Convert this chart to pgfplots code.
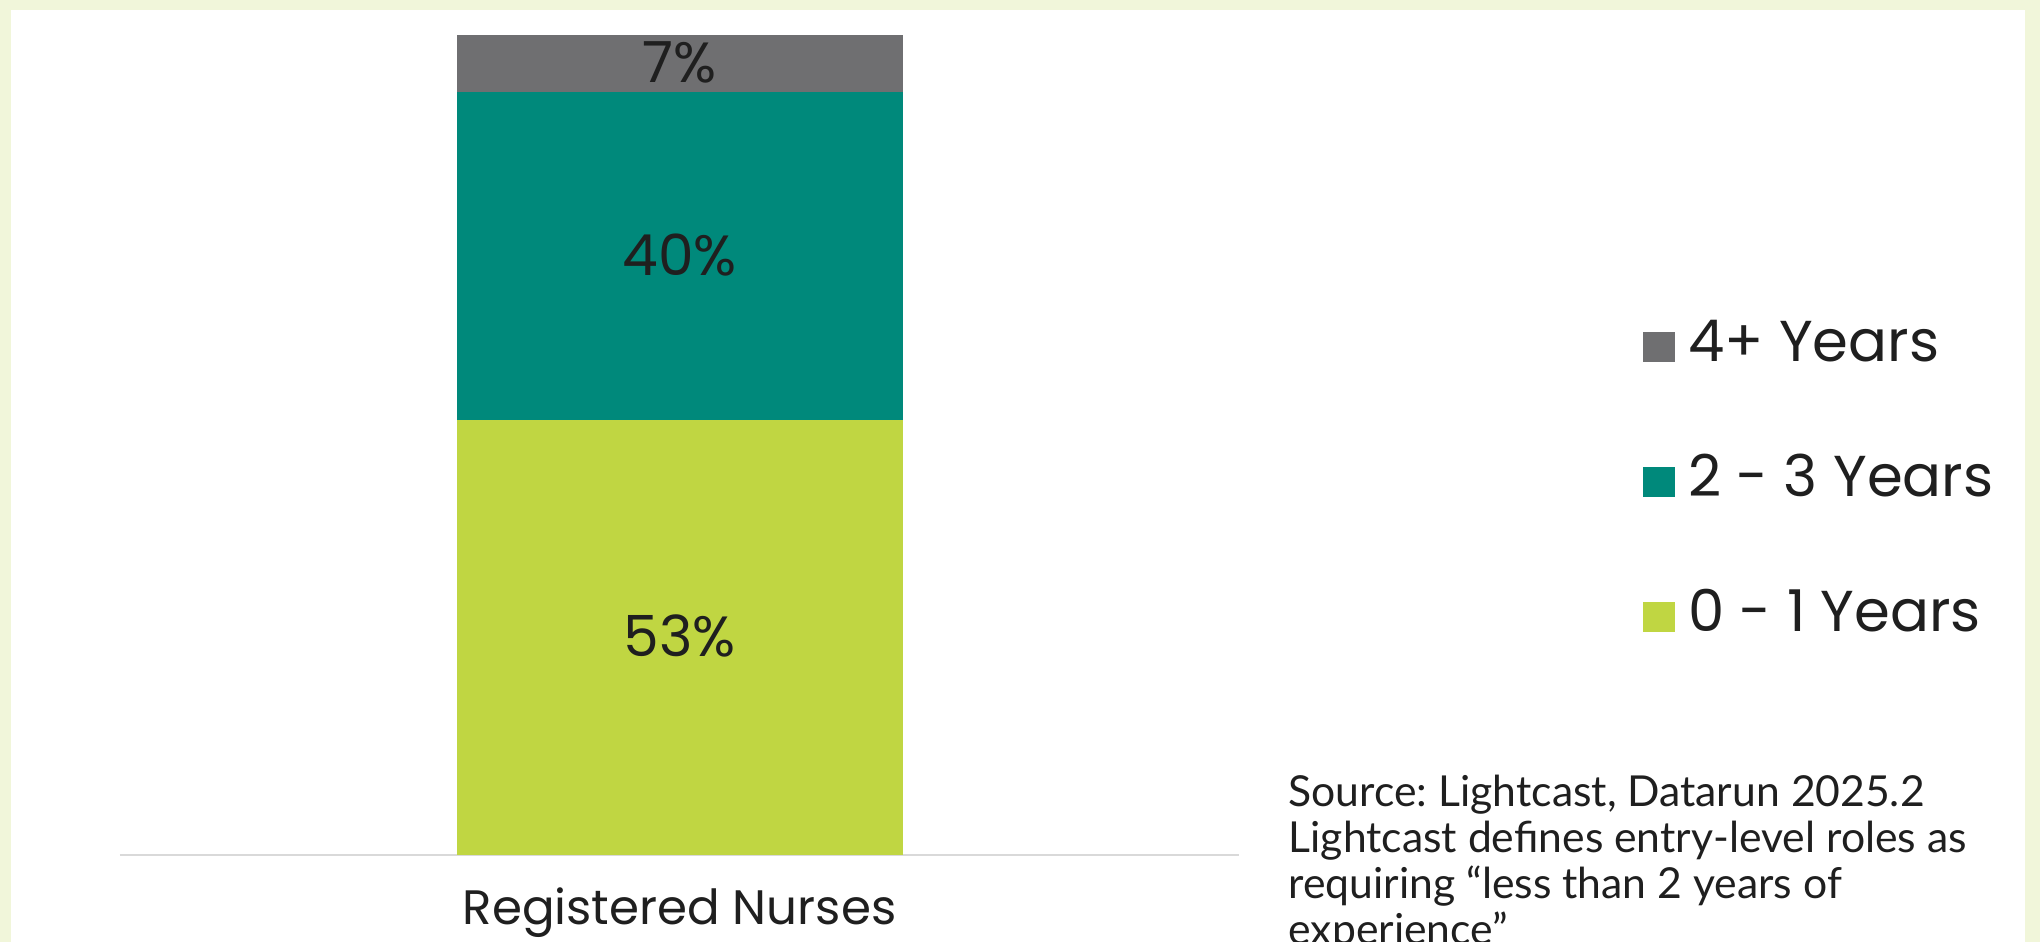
\documentclass[border=0pt]{standalone}
\usepackage{pgfplots}
\pgfplotsset{compat=1.18}
\usepackage{fontspec}
\setmainfont{Poppins}
\newfontfamily\srcfont{Lato}
\definecolor{bgc}{HTML}{F1F6DA}
\definecolor{c4}{HTML}{6F6F71}
\definecolor{c23}{HTML}{00897B}
\definecolor{c01}{HTML}{C0D642}
\definecolor{txt}{HTML}{1F1F1F}
\frenchspacing
\begin{document}
\begin{tikzpicture}
\fill[bgc] (0,0) rectangle (612pt,282.6pt);
\fill[white] (3.3pt,0) rectangle (607.5pt,279.6pt);
\useasboundingbox (0,0) rectangle (612pt,282.6pt);
\begin{axis}[
  at={(36pt,26.1pt)}, anchor=south west,
  scale only axis, width=335.7pt, height=246pt,
  xmin=-1.2545, xmax=1.2545, ymin=0, ymax=100,
  ybar stacked, bar width=133.8pt,
  axis y line=none, axis x line*=bottom,
  x axis line style={draw=black!15, line width=0.8pt, -},
  xtick={0}, xticklabels={Registered Nurses},
  major tick length=0pt,
  xticklabel style={font=\fontsize{14.5}{14.5}\selectfont, text=txt, anchor=base, yshift=-21pt},
  clip=false,
  reverse legend,
  legend style={at={(1.361,0.455)}, anchor=west, draw=none, fill=none,
    inner sep=0pt, outer sep=0pt, row sep=24.5pt, column sep=4pt,
    font=\fontsize{17.3}{17.3}\selectfont, text=txt,
    nodes={inner sep=0pt, text height=12.5pt, text depth=3.5pt}},
  legend cell align=left,
  legend image code/.code={\fill[#1] (0pt,-4.5pt) rectangle (9.6pt,4.5pt);},
  after end axis/.code={
    \node[anchor=base, font=\fontsize{17}{17}\selectfont, text=txt] at (axis cs:0,94.2) {7\%};
    \node[anchor=base, font=\fontsize{17}{17}\selectfont, text=txt] at (axis cs:0,70.7) {40\%};
    \node[anchor=base, font=\fontsize{17}{17}\selectfont, text=txt] at (axis cs:0,24.2) {53\%};
  },
]
\addplot[fill=c01, draw=none] coordinates {(0,53)};
\addlegendentry{0 - 1 Years}
\addplot[fill=c23, draw=none] coordinates {(0,40)};
\addlegendentry{2 - 3 Years}
\addplot[fill=c4, draw=none] coordinates {(0,7)};
\addlegendentry{4+ Years}
\end{axis}
\begin{scope}
\clip (0,0) rectangle (612pt,282.6pt);
\node[anchor=base west, align=left, inner sep=0pt, text=txt,
  font=\srcfont\fontsize{12.8}{13.8}\selectfont] at (386.4pt,-0.9pt)
  {Source: Lightcast, Datarun 2025.2\\Lightcast defines entry-level roles as\\requiring “less than 2 years of\\experience”};
\end{scope}
\end{tikzpicture}
\end{document}
